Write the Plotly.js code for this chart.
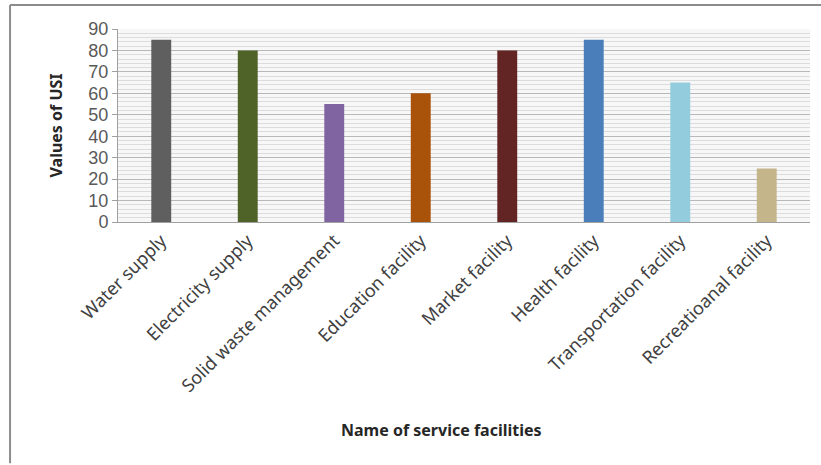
<!DOCTYPE html>
<html>
<head>
<meta charset="utf-8">
<script src="https://cdn.plot.ly/plotly-3.0.1.min.js"></script>
<style>html,body{margin:0;padding:0;background:#fff;}#chart{width:821px;height:465px;}</style>
</head>
<body>
<div id="chart"></div>
<script>
const categories = ["Water supply","Electricity supply","Solid waste management","Education facility","Market facility","Health facility","Transportation facility","Recreatioanal facility"];
const values = [85, 80, 55, 60, 80, 85, 65, 25];
const barColors = ["#5f5f5f","#4f6228","#8064a2","#a9520a","#632523","#4a7ebb","#93cddd","#c4b68a"];
const yTicks = [0,10,20,30,40,50,60,70,80,90];

const trace = {
  type: "bar",
  x: categories,
  y: values,
  marker: {color: barColors},
  width: 0.23,
  hoverinfo: "x+y"
};

const layout = {
  width: 821, height: 465,
  margin: {l: 118, r: 11, t: 29, b: 243},
  paper_bgcolor: "#ffffff",
  plot_bgcolor: "#f7f7f7",
  showlegend: false,
  font: {family: "Noto Sans, sans-serif", color: "#595959"},
  xaxis: {
    type: "category",
    tickangle: -45,
    tickfont: {size: 18, color: "#404040", family: "Noto Sans, sans-serif"},
    showline: true, linecolor: "#a0a0a0", linewidth: 1,
    ticks: "", showgrid: false, zeroline: false
  },
  yaxis: {
    range: [0, 90],
    tickvals: yTicks,
    ticktext: yTicks.map(String),
    tickfont: {size: 18, color: "#595959", family: "Liberation Sans, sans-serif"},
    ticks: "outside", ticklen: 5, tickcolor: "#a0a0a0",
    showline: true, linecolor: "#a0a0a0", linewidth: 1,
    showgrid: true, gridcolor: "#b8b8b8", gridwidth: 1,
    zeroline: false,
    minor: {dtick: 2, showgrid: true, gridcolor: "#dcdcdc", gridwidth: 1}
  },
  annotations: [
    {text: "<b>Values of USI</b>", xref: "paper", yref: "paper", x: -0.091, y: 0.5,
     xanchor: "center", yanchor: "middle",
     textangle: -90, showarrow: false, font: {size: 16, color: "#262626", family: "Noto Sans, sans-serif"}},
    {text: "<b>Name of service facilities</b>", xref: "paper", yref: "paper", x: 0.467, y: -1.078,
     xanchor: "center", yanchor: "middle",
     showarrow: false, font: {size: 16, color: "#262626", family: "Noto Sans, sans-serif"}}
  ],
  shapes: [
    {type: "line", xref: "paper", yref: "paper", x0: -0.156, x1: 1.02, y0: 1.124, y1: 1.124, line: {color: "#8c8c8c", width: 2}},
    {type: "line", xref: "paper", yref: "paper", x0: -0.156, x1: -0.156, y0: 1.124, y1: -1.25, line: {color: "#8c8c8c", width: 2}}
  ]
};

Plotly.newPlot("chart", [trace], layout, {displayModeBar: false, staticPlot: true});
</script>
</body>
</html>
